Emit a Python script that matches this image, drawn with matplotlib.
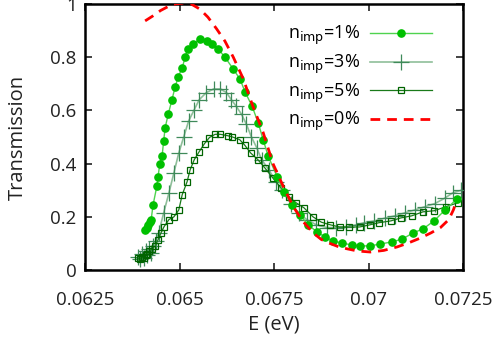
import matplotlib
matplotlib.use("Agg")
import matplotlib.pyplot as plt

# n_imp = 0% (clean system), red dashed
E_CLEAN = [0.06409, 0.0643, 0.0645, 0.0647, 0.0649, 0.0651, 0.0653, 0.06554,
           0.06575, 0.06598, 0.0662, 0.06642, 0.06668, 0.06694, 0.06721,
           0.06747, 0.06774, 0.0680, 0.06825, 0.06853, 0.06875, 0.06898,
           0.0692, 0.06943, 0.0697, 0.07004, 0.0704, 0.07075, 0.07105,
           0.07136, 0.07165, 0.0719, 0.07212, 0.07224, 0.0723]
T_CLEAN = [0.936, 0.955, 0.975, 0.99, 1.0, 1.003, 1.0, 0.98,
           0.95, 0.906, 0.86, 0.80, 0.72, 0.615, 0.517,
           0.40, 0.315, 0.24, 0.185, 0.14, 0.115, 0.10,
           0.088, 0.08, 0.072, 0.068, 0.074, 0.087, 0.102,
           0.12, 0.14, 0.16, 0.19, 0.226, 0.25]

# n_imp = 1%, filled circles
E_1 = [0.06409, 0.06413, 0.06417, 0.06421, 0.06425, 0.0643, 0.0644, 0.06443,
       0.06448, 0.06454, 0.06458, 0.06462, 0.0647, 0.0648, 0.06488, 0.06496,
       0.06507, 0.06515, 0.06522, 0.06536, 0.06554, 0.06573, 0.06586,
       0.06602, 0.0662, 0.06642, 0.0666, 0.06673, 0.06692, 0.06708,
       0.06721, 0.06734, 0.06758, 0.06776, 0.06798, 0.06819, 0.0684,
       0.06864, 0.06885, 0.06906, 0.0693, 0.06956, 0.06978, 0.07004,
       0.0703, 0.07062, 0.07089, 0.07118, 0.07144, 0.07173, 0.07202,
       0.07234]
T_1 = [0.151, 0.16, 0.17, 0.18, 0.19, 0.245, 0.315, 0.35,
       0.40, 0.43, 0.485, 0.535, 0.585, 0.64, 0.686, 0.724,
       0.76, 0.80, 0.83, 0.85, 0.868, 0.86, 0.85,
       0.83, 0.80, 0.755, 0.717, 0.67, 0.615, 0.553,
       0.49, 0.43, 0.35, 0.295, 0.245, 0.207, 0.17,
       0.143, 0.124, 0.109, 0.102, 0.094, 0.091, 0.091,
       0.098, 0.106, 0.117, 0.14, 0.155, 0.185, 0.226,
       0.268]

# n_imp = 3%, plus markers
E_3 = [0.0639, 0.06395, 0.064, 0.06405, 0.0641, 0.06415, 0.0642, 0.06425,
       0.0643, 0.06437, 0.06445, 0.06458, 0.06472, 0.06485, 0.06498,
       0.06511, 0.06524, 0.06538, 0.06552, 0.06571, 0.0659, 0.06608,
       0.06624, 0.06637, 0.0665, 0.06664, 0.06677, 0.0669, 0.06704,
       0.06717, 0.06736, 0.06755, 0.0677, 0.06794, 0.06815, 0.06836,
       0.06862, 0.06889, 0.06913, 0.0694, 0.06967, 0.06988, 0.07015,
       0.07042, 0.07069, 0.07095, 0.07122, 0.07148, 0.07175, 0.07201,
       0.07222, 0.07245]
T_3 = [0.05, 0.04, 0.06, 0.045, 0.07, 0.055, 0.08, 0.065,
       0.09, 0.11, 0.14, 0.215, 0.29, 0.365, 0.44,
       0.50, 0.56, 0.60, 0.64, 0.667, 0.68, 0.68,
       0.667, 0.64, 0.615, 0.585, 0.547, 0.50, 0.46,
       0.415, 0.377, 0.332, 0.30, 0.25, 0.215, 0.19,
       0.17, 0.16, 0.16, 0.163, 0.17, 0.178, 0.185,
       0.195, 0.204, 0.215, 0.226, 0.238, 0.25, 0.27,
       0.29, 0.30]

# n_imp = 5%, open squares
E_5 = [0.0639, 0.06395, 0.064, 0.06405, 0.0641, 0.06415, 0.0642, 0.06427,
       0.06435, 0.06443, 0.06451, 0.06459, 0.06472, 0.06485, 0.06498,
       0.06507, 0.0652, 0.06528, 0.06539, 0.06552, 0.06566, 0.06579,
       0.06594, 0.06608, 0.06627, 0.0664, 0.06659, 0.06672, 0.06688,
       0.06707, 0.06725, 0.06746, 0.06768, 0.0679, 0.06808, 0.06829,
       0.06853, 0.06875, 0.06899, 0.06923, 0.06949, 0.06976, 0.07003,
       0.07027, 0.07059, 0.07085, 0.07114, 0.07144, 0.07173, 0.07204,
       0.07236]
T_5 = [0.045, 0.04, 0.05, 0.045, 0.055, 0.06, 0.07, 0.08,
       0.09, 0.113, 0.14, 0.163, 0.19, 0.20, 0.226,
       0.283, 0.332, 0.377, 0.415, 0.445, 0.475, 0.498,
       0.51, 0.51, 0.505, 0.50, 0.49, 0.47, 0.44,
       0.415, 0.385, 0.347, 0.31, 0.275, 0.253, 0.234,
       0.20, 0.18, 0.17, 0.162, 0.162, 0.162, 0.17,
       0.178, 0.185, 0.196, 0.204, 0.219, 0.223, 0.238,
       0.253]

X_TICKS = [0.0625, 0.065, 0.0675, 0.07, 0.0725]
X_TICK_LABELS = ["0.0625", "0.065", "0.0675", "0.07", "0.0725"]
Y_TICKS = [0, 0.2, 0.4, 0.6, 0.8, 1]
Y_TICK_LABELS = ["0", "0.2", "0.4", "0.6", "0.8", "1"]

plt.rcParams["font.family"] = ["Open Sans", "DejaVu Sans"]

fig = plt.figure(figsize=(4.97, 3.49), dpi=100)
ax = fig.add_axes((0.171, 0.226, 0.761, 0.763))

ax.plot(E_1, T_1, color="#4fd34f", linewidth=1.0, marker="o",
        markersize=5.2, markerfacecolor="#00c000", markeredgecolor="#00c000",
        label=r"n$_{\rm imp}$=1%", zorder=4)
ax.plot(E_3, T_3, color="#8fbf9a", linewidth=1.2, marker="+",
        markersize=11, markeredgecolor="#3f8a5a", markeredgewidth=0.9,
        label=r"n$_{\rm imp}$=3%", zorder=3)
ax.plot(E_5, T_5, color="#1a7a1a", linewidth=0.9, marker="s",
        markersize=5, markerfacecolor="none", markeredgecolor="#006400",
        markeredgewidth=0.9, label=r"n$_{\rm imp}$=5%", zorder=3)
ax.plot(E_CLEAN, T_CLEAN, color="#ff0000", linewidth=2.0,
        linestyle=(0, (3.5, 2.5)), label=r"n$_{\rm imp}$=0%", zorder=5)

ax.set_xlim(0.0625, 0.0725)
ax.set_ylim(0, 1)
ax.set_xticks(X_TICKS, X_TICK_LABELS)
ax.set_yticks(Y_TICKS, Y_TICK_LABELS)
ax.tick_params(direction="in", length=5, width=1.2, top=True, right=True,
               labelsize=13.5, pad=6, colors="#222222")
ax.tick_params(axis="x", pad=15)
for spine in ax.spines.values():
    spine.set_linewidth(1.8)
ax.set_xlabel("E (eV)", fontsize=14.5, labelpad=4, color="#222222")
ax.set_ylabel("Transmission", fontsize=14.5, labelpad=16, color="#222222")

ax.legend(loc="upper right", frameon=False, fontsize=13, handlelength=3.4,
          markerfirst=False, labelspacing=0.3, handletextpad=0.6,
          bbox_to_anchor=(0.96, 0.985))

fig.savefig("out.png", dpi=100)
